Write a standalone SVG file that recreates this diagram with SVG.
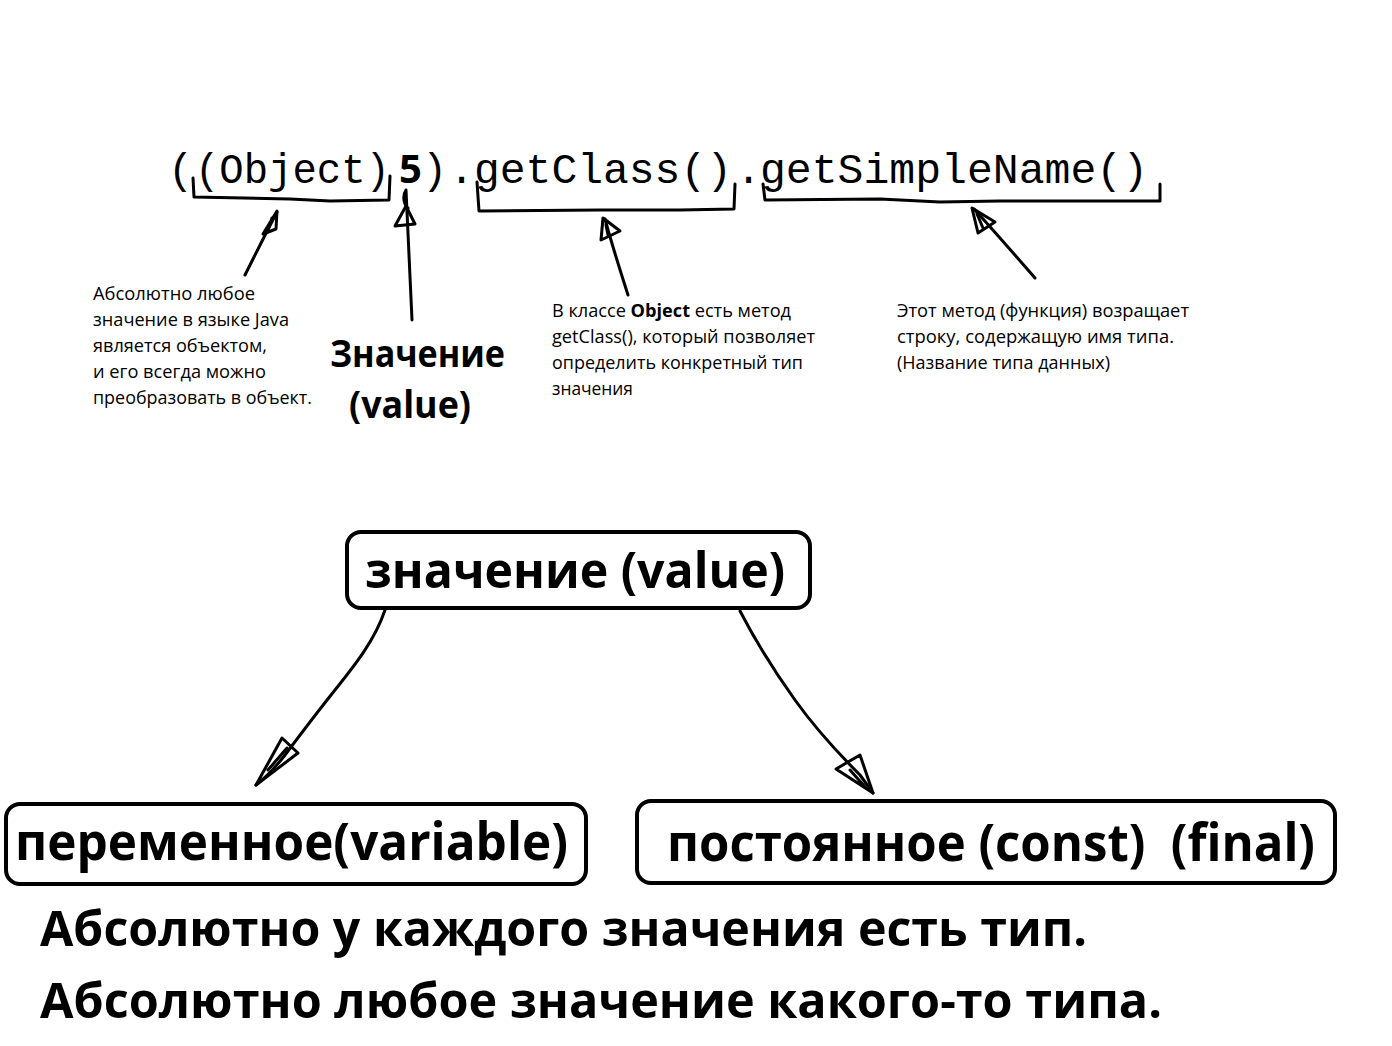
<svg xmlns="http://www.w3.org/2000/svg" width="1392" height="1046" viewBox="0 0 1392 1046">
<defs>
<style>
.code{font-family:"Liberation Mono","Courier New",monospace;font-size:42px;fill:#000}
.small{font-family:"Open Sans","Noto Sans",sans-serif;font-size:18px;fill:#000}
.bold{font-family:"Open Sans","Noto Sans",sans-serif;font-weight:bold;fill:#000}
.hand{fill:none;stroke:#000;stroke-width:3;stroke-linecap:round;stroke-linejoin:round}
.box{fill:#fff;stroke:#000;stroke-width:4}
</style>
</defs>
<rect width="1392" height="1046" fill="#fff"/>

<g id="code">
<text class="code" x="168" y="183">(</text>
<text class="code" x="195" y="183" textLength="195" lengthAdjust="spacingAndGlyphs">(Object)</text>
<text class="bold" x="399" y="183" font-size="40">5</text>
<text class="code" x="422" y="183">)</text>
<text class="code" x="449" y="183">.</text>
<text class="code" x="474" y="183" textLength="258" lengthAdjust="spacingAndGlyphs">getClass()</text>
<text class="code" x="736" y="183">.</text>
<text class="code" x="760" y="183" textLength="388" lengthAdjust="spacingAndGlyphs">getSimpleName()</text>
</g>

<g id="brackets">
<path class="hand" d="M193,178 L194,197 L290,199 L330,201 L389,200 L390,176"/>
<path class="hand" d="M477,182 L479,211 L600,210 L680,210 L734,209 L735,184"/>
<path class="hand" d="M763,184 L765,200 L880,199 L940,202 L1000,201 L1160,201 L1160,184"/>
</g>

<g id="connectors">
<path class="hand" d="M245,275 C255,255 265,235 277,212"/>
<path class="hand" d="M277,211 L263,234 L276,229 Z M272,218 L268,230"/>
<path class="hand" d="M412,320 C410,280 408,230 406,190 C402,196 404,205 408,208"/>
<path class="hand" d="M406,206 L395,226 L415,224 Z"/>
<path class="hand" d="M628,295 C620,270 612,245 605,219"/>
<path class="hand" d="M603,218 L601,240 L620,231 Z M606,225 L608,235"/>
<path class="hand" d="M1035,278 C1015,255 995,232 974,209"/>
<path class="hand" d="M972,208 L978,233 L995,222 Z M977,214 L983,228"/>
<path class="hand" d="M385,610 C375,640 355,665 335,690 C315,715 300,735 285,755 C275,768 265,778 256,785"/>
<path class="hand" d="M256,785 L282,738 L298,753 Z M268,770 L287,748"/>
<path class="hand" d="M740,611 C755,640 770,665 795,700 C815,728 840,755 860,775 L873,793"/>
<path class="hand" d="M873,793 L836,769 L860,755 Z M850,770 L866,788"/>
</g>

<g id="note-object">
<text class="small" x="93" y="300" textLength="162" lengthAdjust="spacingAndGlyphs">Абсолютно любое</text>
<text class="small" x="93" y="326" textLength="196" lengthAdjust="spacingAndGlyphs">значение в языке Java</text>
<text class="small" x="93" y="352" textLength="174" lengthAdjust="spacingAndGlyphs">является объектом,</text>
<text class="small" x="93" y="378" textLength="173" lengthAdjust="spacingAndGlyphs">и его всегда можно</text>
<text class="small" x="93" y="404" textLength="219" lengthAdjust="spacingAndGlyphs">преобразовать в объект.</text>
</g>

<g id="note-value">
<text class="bold" x="330" y="367" font-size="38" textLength="175" lengthAdjust="spacingAndGlyphs">Значение</text>
<text class="bold" x="349" y="418" font-size="38" textLength="122" lengthAdjust="spacingAndGlyphs">(value)</text>
</g>

<g id="note-getclass">
<text class="small" x="552" y="317" textLength="239" lengthAdjust="spacingAndGlyphs">В классе <tspan font-weight="bold">Object</tspan> есть метод</text>
<text class="small" x="552" y="343" textLength="263" lengthAdjust="spacingAndGlyphs">getClass(), который позволяет</text>
<text class="small" x="552" y="369" textLength="251" lengthAdjust="spacingAndGlyphs">определить конкретный тип</text>
<text class="small" x="552" y="395" textLength="81" lengthAdjust="spacingAndGlyphs">значения</text>
</g>

<g id="note-simplename">
<text class="small" x="897" y="317" textLength="292" lengthAdjust="spacingAndGlyphs">Этот метод (функция) возращает</text>
<text class="small" x="897" y="343" textLength="277" lengthAdjust="spacingAndGlyphs">строку, содержащую имя типа.</text>
<text class="small" x="897" y="369" textLength="213" lengthAdjust="spacingAndGlyphs">(Название типа данных)</text>
</g>

<g id="node-value">
<rect class="box" x="347" y="532" width="463" height="76" rx="14"/>
<text class="bold" x="365" y="588" font-size="50" textLength="420" lengthAdjust="spacingAndGlyphs">значение (value)</text>
</g>

<g id="node-variable">
<rect class="box" x="6" y="804" width="580" height="80" rx="14"/>
<text class="bold" x="15" y="860" font-size="52" textLength="553" lengthAdjust="spacingAndGlyphs">переменное(variable)</text>
</g>

<g id="node-const">
<rect class="box" x="637" y="801" width="698" height="82" rx="14"/>
<text class="bold" x="667" y="861" font-size="52" textLength="648" lengthAdjust="spacingAndGlyphs" xml:space="preserve">постоянное (const)  (final)</text>
</g>

<g id="footer">
<text class="bold" x="40" y="946" font-size="49" textLength="1047" lengthAdjust="spacingAndGlyphs">Абсолютно у каждого значения есть тип.</text>
<text class="bold" x="40" y="1018" font-size="49" textLength="1122" lengthAdjust="spacingAndGlyphs">Абсолютно любое значение какого-то типа.</text>
</g>
</svg>
